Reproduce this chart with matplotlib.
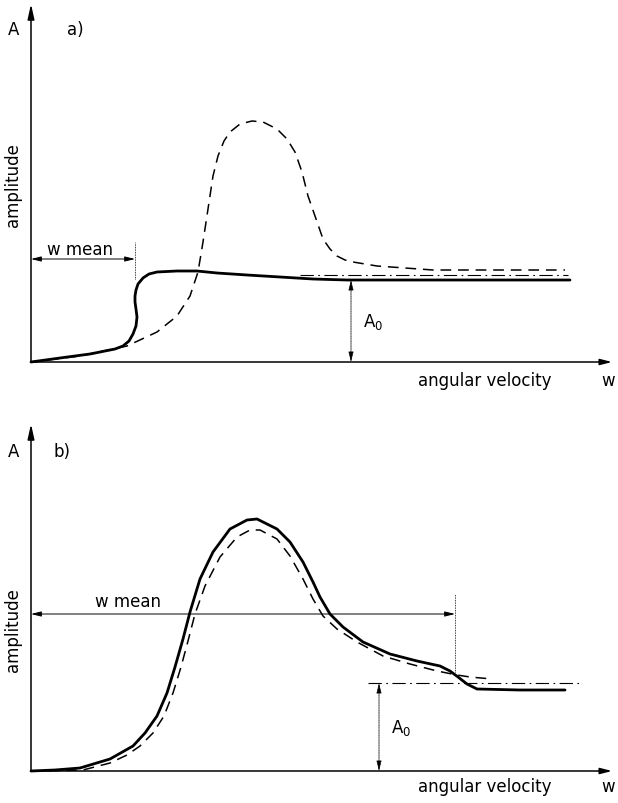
import matplotlib
matplotlib.use("Agg")
import matplotlib.pyplot as plt

# ---------------- panel a data ----------------
a_solid_w = [0, 29, 59, 84, 92, 98, 102, 105, 106, 105, 104, 104, 105, 107, 112, 118, 126, 146, 166, 186,
             216, 249, 282, 316, 419, 539]
a_solid_A = [0, 4, 8, 13, 16, 21, 28, 36, 45, 53, 60, 66, 72, 78, 84, 88, 90, 91, 91, 89,
             87, 85, 83, 82, 82, 82]

a_dash_w = [0, 49, 96, 126, 146, 159, 167, 172, 177, 182, 187, 193, 199, 209, 221, 232, 246, 256, 264, 271,
            277, 284, 292, 299, 306, 314, 322, 334, 346, 402, 534]
a_dash_A = [0, 6, 16, 30, 46, 66, 90, 120, 153, 186, 206, 221, 230, 238, 241, 240, 233, 223, 210, 190,
            166, 146, 123, 113, 106, 102, 100, 98, 96, 92, 92]

a_ref_w = [269, 537]
a_ref_A = [87, 87]
a_A0 = 82
a_A0_w = 320
a_wmean = 104
a_wmean_level = 103

# ---------------- panel b data ----------------
b_solid_w = [0, 24, 49, 79, 102, 114, 126, 136, 144, 152, 159, 169, 182, 199, 216, 226, 246, 259, 272, 282,
             289, 299, 312, 332, 359, 386, 409, 419, 427, 436, 446, 489, 534]
b_solid_A = [0, 1, 3, 12, 25, 38, 55, 78, 104, 132, 159, 192, 219, 242, 251, 252, 242, 229, 209, 189,
             174, 157, 144, 129, 117, 110, 105, 100, 94, 87, 82, 81, 81]

b_dash_w = [0, 52, 79, 96, 109, 122, 133, 142, 150, 157, 164, 174, 189, 206, 219, 229, 246, 259, 272, 282,
            292, 306, 326, 352, 379, 406, 426, 439, 461]
b_dash_A = [0, 1, 8, 16, 25, 38, 55, 78, 104, 130, 157, 185, 214, 234, 241, 241, 232, 215, 192, 172,
            155, 142, 129, 115, 107, 100, 96, 94, 92]

b_ref_w = [337, 551]
b_ref_A = [88, 88]
b_A0 = 88
b_A0_w = 348
b_wmean = 424
b_wmean_level = 157

W, H = 618, 804
fig = plt.figure(figsize=(W / 100, H / 100), dpi=100)
FONT = "DejaVu Sans"
FS = 12


def panel(rect, xmax, ymax, solid, dash, ref, A0, A0w, wmean, wlevel, wtop, wbot, wtext, tag,
          amp_y, lab_y, xlab_y):
    ax = fig.add_axes(rect)
    ax.set_xlim(0, xmax)
    ax.set_ylim(0, ymax)
    ax.axis("off")
    ax.annotate("", xy=(xmax, 0), xytext=(0, 0),
                arrowprops=dict(arrowstyle="-|>,head_length=0.7,head_width=0.18", lw=1.1, color="black",
                                shrinkA=0, shrinkB=0), annotation_clip=False)
    ax.annotate("", xy=(0, ymax), xytext=(0, 0),
                arrowprops=dict(arrowstyle="-|>,head_length=0.9,head_width=0.2", lw=1.1, color="black",
                                shrinkA=0, shrinkB=0), annotation_clip=False)
    ax.plot(solid[0], solid[1], color="black", lw=2.0, solid_capstyle="round",
            solid_joinstyle="round", clip_on=False)
    ax.plot(dash[0], dash[1], color="black", lw=1.1, linestyle=(0, (7, 4.5)), clip_on=False)
    ax.plot(ref[0], ref[1], color="black", lw=0.8, linestyle=(0, (12, 4, 1.5, 4)), clip_on=False)
    ax.annotate("", xy=(A0w, A0), xytext=(A0w, 0),
                arrowprops=dict(arrowstyle="<|-|>,head_length=0.6,head_width=0.15", lw=0.6,
                                linestyle=(0, (1, 1)), color="black", shrinkA=0, shrinkB=0))
    ax.text(A0w + 12, A0 * 0.5, "A$_0$", fontsize=FS, family=FONT, ha="left", va="center")
    ax.annotate("", xy=(wmean, wlevel), xytext=(0, wlevel),
                arrowprops=dict(arrowstyle="<|-|>,head_length=0.6,head_width=0.15", lw=0.7,
                                color="black", shrinkA=0, shrinkB=0))
    ax.plot([wmean, wmean], [wbot, wtop], color="black", lw=0.6, linestyle=(0, (1, 1)))
    ax.text(wtext[0], wtext[1], "w mean", fontsize=FS, family=FONT, ha="center", va="center")
    ax.text(-17, lab_y, "A", fontsize=FS, family=FONT, ha="center", va="center")
    ax.text(tag[1], lab_y, tag[0], fontsize=FS, family=FONT, ha="center", va="center")
    ax.text(-18, amp_y, "amplitude", fontsize=FS, family=FONT, rotation=90, ha="center", va="center")
    ax.text(454, xlab_y, "angular velocity", fontsize=FS, family=FONT, ha="center", va="center")
    ax.text(577, xlab_y, "w", fontsize=FS, family=FONT, ha="center", va="center")
    return ax


panel([31 / W, (H - 363) / H, 581 / W, 358 / H], 581, 358,
      (a_solid_w, a_solid_A), (a_dash_w, a_dash_A), (a_ref_w, a_ref_A),
      a_A0, a_A0_w, a_wmean, a_wmean_level, 120, 83, (49, 113), ("a)", 44),
      178, 333, -18)

panel([31 / W, (H - 772) / H, 581 / W, 347 / H], 581, 347,
      (b_solid_w, b_solid_A), (b_dash_w, b_dash_A), (b_ref_w, b_ref_A),
      b_A0, b_A0_w, b_wmean, b_wmean_level, 177, 99, (97, 170), ("b)", 31),
      142, 320, -15)

fig.savefig("out.png", dpi=100, facecolor="white")
